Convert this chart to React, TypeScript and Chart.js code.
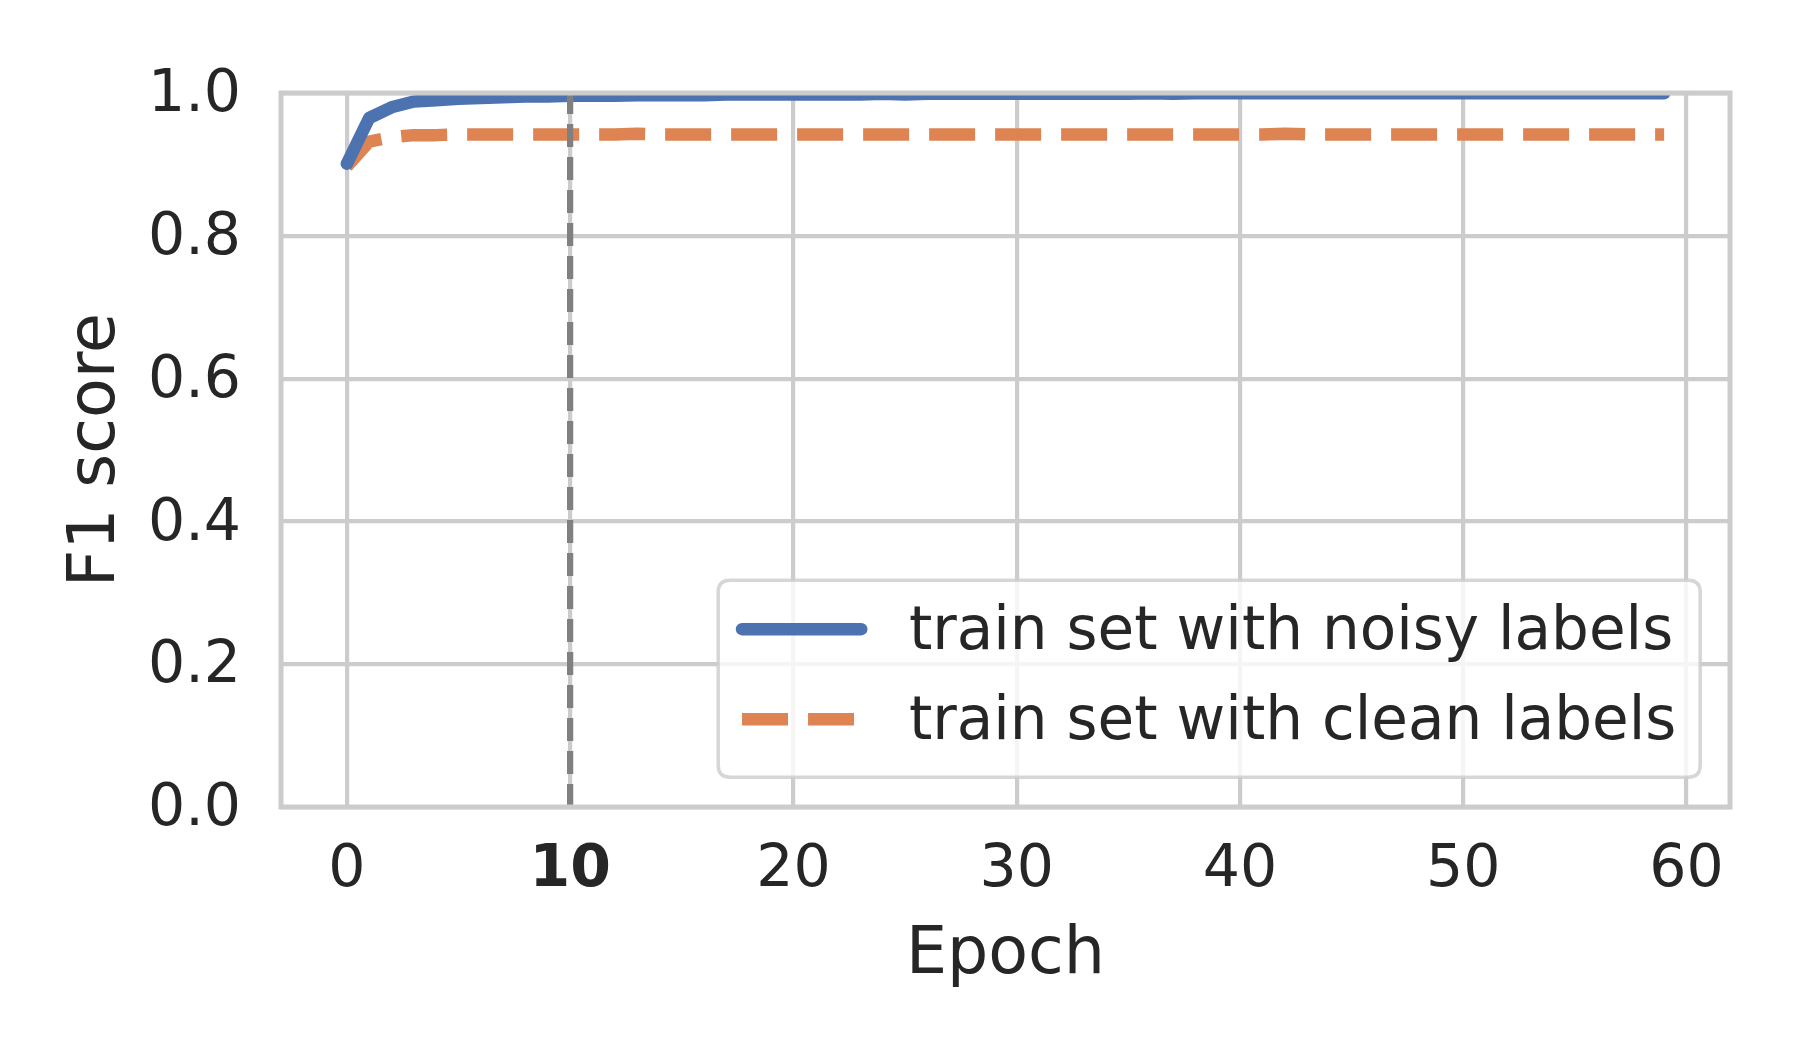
import React, { useEffect, useRef } from "react";
import { Chart, registerables } from "chart.js";

Chart.register(...registerables);

const noisyF1: number[] = [
  0.901, 0.965, 0.98, 0.988, 0.99, 0.992, 0.993, 0.994, 0.995, 0.995,
  0.996, 0.996, 0.996, 0.997, 0.997, 0.997, 0.997, 0.998, 0.998, 0.998,
  0.998, 0.998, 0.998, 0.998, 0.999, 0.998, 0.999, 0.999, 0.999, 0.999,
  0.999, 0.999, 0.999, 0.999, 0.999, 0.999, 0.9995, 0.999, 0.9995, 0.9995,
  0.9995, 0.9995, 0.9995, 0.9995, 0.9995, 0.9995, 0.9995, 0.9995, 0.9995, 0.9995,
  0.9995, 0.9995, 0.9995, 0.9995, 0.9995, 0.9995, 0.9995, 0.9995, 0.9995, 0.9995,
];

const cleanF1: number[] = [
  0.897, 0.932, 0.938, 0.941, 0.941, 0.942, 0.942, 0.942, 0.942, 0.942,
  0.942, 0.942, 0.942, 0.943, 0.942, 0.942, 0.942, 0.942, 0.942, 0.942,
  0.942, 0.942, 0.942, 0.942, 0.942, 0.942, 0.942, 0.942, 0.942, 0.942,
  0.942, 0.942, 0.942, 0.942, 0.942, 0.942, 0.942, 0.942, 0.942, 0.942,
  0.942, 0.942, 0.943, 0.942, 0.942, 0.942, 0.942, 0.942, 0.942, 0.942,
  0.942, 0.942, 0.942, 0.942, 0.942, 0.942, 0.942, 0.942, 0.942, 0.942,
];

const seriesLabels: string[] = ["train set with noisy labels", "train set with clean labels"];
const xTicks: number[] = [0, 10, 20, 30, 40, 50, 60];
const yTicks: number[] = [0, 0.2, 0.4, 0.6, 0.8, 1.0];
const markerEpoch = 10;
const xTitle = "Epoch";
const yTitle = "F1 score";

const FONT = "'DejaVu Sans', sans-serif";
const TEXT = "#262626";
const GRID = "#cccccc";
const BLUE = "#4c72b0";
const ORANGE = "#dd8452";

const W = 1800;
const H = 1050;
const AREA = { left: 281, right: 1730, top: 93, bottom: 807 };
const TICK_SIZE = 58.5;
const TITLE_SIZE = 65;
const LEGEND_SIZE = 59.6;

const markerPlugin = {
  id: "markerLine",
  afterDatasetsDraw(chart: any) {
    const { ctx, chartArea } = chart;
    const xs = chart.scales.x;
    const px = xs.getPixelForValue(markerEpoch);
    ctx.save();
    ctx.beginPath();
    ctx.rect(chartArea.left, chartArea.top, chartArea.right - chartArea.left, chartArea.bottom - chartArea.top);
    ctx.clip();
    ctx.strokeStyle = "#808080";
    ctx.lineWidth = 6.25;
    ctx.lineCap = "butt";
    ctx.setLineDash([23, 10]);
    ctx.beginPath();
    ctx.moveTo(px, chartArea.bottom);
    ctx.lineTo(px, chartArea.top);
    ctx.stroke();
    ctx.restore();
  },
};

const spinePlugin = {
  id: "spines",
  afterDatasetsDraw(chart: any) {
    const { ctx, chartArea } = chart;
    ctx.save();
    ctx.strokeStyle = GRID;
    ctx.lineWidth = 5;
    ctx.setLineDash([]);
    ctx.strokeRect(chartArea.left, chartArea.top, chartArea.right - chartArea.left, chartArea.bottom - chartArea.top);
    ctx.restore();
  },
};

const legendPlugin = {
  id: "boxLegend",
  afterDraw(chart: any) {
    const { ctx, chartArea } = chart;
    const fs = LEGEND_SIZE;
    const pad = 0.4 * fs;
    const handleLen = 2 * fs;
    const handleGap = 0.8 * fs;
    const rowGap = 90;
    ctx.save();
    ctx.font = `${fs}px ${FONT}`;
    const ds = chart.data.datasets;
    let maxW = 0;
    ds.forEach((d: any) => {
      maxW = Math.max(maxW, ctx.measureText(d.label).width);
    });
    const right = chartArea.right - 0.5 * fs;
    const bottom = chartArea.bottom - 0.5 * fs;
    const width = pad * 2 + handleLen + handleGap + maxW;
    const height = 197;
    const left = right - width;
    const top = bottom - height;
    const r = 0.2 * fs;
    ctx.beginPath();
    ctx.moveTo(left + r, top);
    ctx.lineTo(right - r, top);
    ctx.quadraticCurveTo(right, top, right, top + r);
    ctx.lineTo(right, bottom - r);
    ctx.quadraticCurveTo(right, bottom, right - r, bottom);
    ctx.lineTo(left + r, bottom);
    ctx.quadraticCurveTo(left, bottom, left, bottom - r);
    ctx.lineTo(left, top + r);
    ctx.quadraticCurveTo(left, top, left + r, top);
    ctx.closePath();
    ctx.fillStyle = "rgba(255,255,255,0.8)";
    ctx.fill();
    ctx.strokeStyle = "rgba(204,204,204,0.8)";
    ctx.lineWidth = 3.5;
    ctx.stroke();
    ds.forEach((d: any, i: number) => {
      const y = bottom - 58 - (ds.length - 1 - i) * rowGap;
      const x0 = left + pad;
      ctx.beginPath();
      ctx.strokeStyle = d.borderColor;
      ctx.lineWidth = d.borderWidth;
      const dash = d.borderDash || [];
      ctx.setLineDash(dash);
      ctx.lineCap = dash.length ? "butt" : "round";
      ctx.moveTo(x0, y);
      ctx.lineTo(x0 + handleLen, y);
      ctx.stroke();
      ctx.setLineDash([]);
      ctx.fillStyle = TEXT;
      ctx.textBaseline = "alphabetic";
      ctx.textAlign = "left";
      ctx.fillText(d.label, x0 + handleLen + handleGap, y + 20);
    });
    ctx.restore();
  },
};

export default function App() {
  const ref = useRef<HTMLCanvasElement | null>(null);
  useEffect(() => {
    if (!ref.current) return;
    const chart = new Chart(ref.current, {
      type: "line",
      data: {
        datasets: [
          {
            label: seriesLabels[0],
            data: noisyF1.map((v, i) => ({ x: i, y: v })),
            borderColor: BLUE,
            backgroundColor: BLUE,
            borderWidth: 12.5,
            pointRadius: 0,
            tension: 0,
            borderCapStyle: "round",
            borderJoinStyle: "round",
            clip: 0,
          } as any,
          {
            label: seriesLabels[1],
            data: cleanF1.map((v, i) => ({ x: i, y: v })),
            borderColor: ORANGE,
            backgroundColor: ORANGE,
            borderWidth: 12.5,
            borderDash: [46, 20],
            pointRadius: 0,
            tension: 0,
            borderCapStyle: "butt",
            borderJoinStyle: "round",
            clip: 0,
          } as any,
        ],
      },
      options: {
        responsive: false,
        animation: false,
        devicePixelRatio: 1,
        layout: { padding: { top: AREA.top, right: W - AREA.right, left: 0, bottom: 0 } },
        plugins: { legend: { display: false }, tooltip: { enabled: false } },
        scales: {
          x: {
            type: "linear",
            min: -2.95,
            max: 61.95,
            afterBuildTicks: (s: any) => {
              s.ticks = xTicks.map((v) => ({ value: v }));
            },
            afterFit: (s: any) => {
              s.height = H - AREA.bottom;
            },
            grid: { color: GRID, lineWidth: 4.2, drawTicks: false },
            border: { display: false },
            ticks: {
              padding: 29,
              color: TEXT,
              autoSkip: false,
              maxRotation: 0,
              callback: (v: any) => String(v),
              font: (c: any) => ({
                family: FONT,
                size: TICK_SIZE,
                weight: c.tick && c.tick.value === markerEpoch ? "bold" : "normal",
              }),
            },
            title: {
              display: true,
              text: xTitle,
              color: TEXT,
              font: { family: FONT, size: TITLE_SIZE },
              padding: { top: 0, bottom: 55 },
            },
          },
          y: {
            type: "linear",
            min: 0,
            max: 1,
            afterBuildTicks: (s: any) => {
              s.ticks = yTicks.map((v) => ({ value: v }));
            },
            afterFit: (s: any) => {
              s.width = AREA.left;
            },
            grid: { color: GRID, lineWidth: 4.2, drawTicks: false },
            border: { display: false },
            ticks: {
              padding: 40,
              labelOffset: 3,
              color: TEXT,
              callback: (v: any) => Number(v).toFixed(1),
              font: { family: FONT, size: TICK_SIZE },
            },
            title: {
              display: true,
              text: yTitle,
              color: TEXT,
              font: { family: FONT, size: TITLE_SIZE },
              padding: { top: 58, bottom: 0 },
            },
          },
        },
      } as any,
      plugins: [markerPlugin, spinePlugin, legendPlugin],
    });
    return () => chart.destroy();
  }, []);
  return (
    <div style={{ position: "fixed", left: 0, top: 0, width: W, height: H, background: "#fff" }}>
      <canvas ref={ref} width={W} height={H} style={{ width: W, height: H }} />
    </div>
  );
}
